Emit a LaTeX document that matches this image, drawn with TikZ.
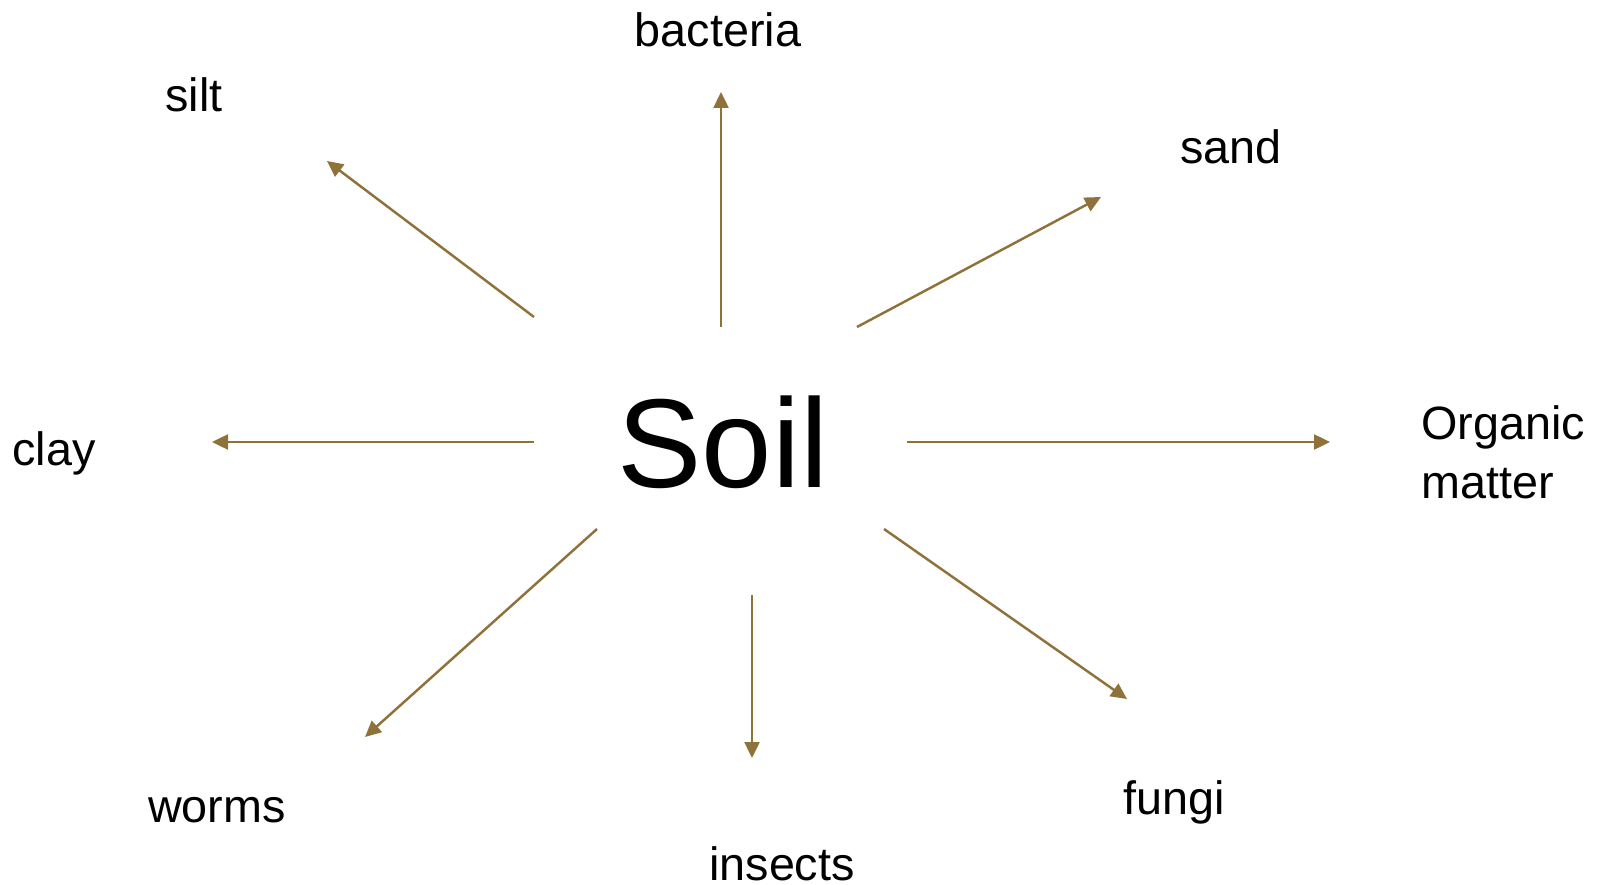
\documentclass[tikz,border=0pt]{standalone}
\usepackage{fontspec}
\setmainfont{Liberation Sans}
\usepackage{xcolor}
\usepackage{tikz}
\usetikzlibrary{positioning,arrows.meta}
\definecolor{soilbrown}{RGB}{143,114,58}
\tikzset{
  lbl/.style={inner sep=0pt,anchor=base,font=\fontsize{26.6}{33.3}\selectfont},
  hub/.style={inner sep=0pt,font=\fontsize{72}{80}\selectfont},
  arr/.style={-{Triangle[length=0.32cm,width=0.3cm]},draw=soilbrown,line width=1.4pt},
}
\begin{document}
\begin{tikzpicture}[x=0.02cm,y=-0.02cm]
  \useasboundingbox (0,0) rectangle (1602,885);
  % centre word
  \node[hub] (soil) at (723,442) {Soil};
  % labels, placed on their baselines
  \node[lbl] (bacteria) at (718,47) {bacteria};
  \node[lbl] (silt) at (194,112) {silt};
  \node[lbl] (sand) at (1231,164) {sand};
  \node[lbl] (clay) at (54,465) {clay};
  \node[lbl,anchor=base west,align=left] (organic) at (1421,498) {Organic\\matter};
  \node[lbl] (worms) at (217,822) {worms};
  \node[lbl] (insects) at (782,880) {insects};
  \node[lbl] (fungi) at (1174,814) {fungi};
  % arrow ends
  \foreach \nm/\sx/\sy/\ex/\ey in {silt/534/317/327/161, bacteria/721/327/721/92,
      sand/857/327/1101/197, clay/534/442/212/442, organic/907/442/1330/442,
      worms/597/529/365/737, insects/752/595/752/758, fungi/884/529/1127/699} {
    \coordinate (a-\nm) at (\sx,\sy);
    \coordinate (b-\nm) at (\ex,\ey);
    \draw[arr] (a-\nm) -- (b-\nm);
  }
\end{tikzpicture}
\end{document}
